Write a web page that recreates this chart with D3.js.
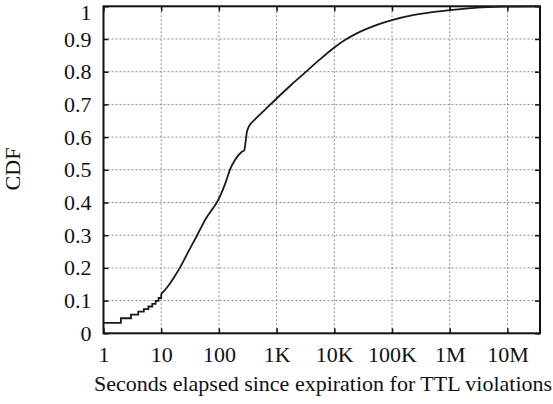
<!DOCTYPE html>
<html>
<head>
<meta charset="utf-8">
<script src="https://cdn.jsdelivr.net/npm/d3@7"></script>
<style>
  body { margin: 0; background: #fff; }
  svg { display: block; }
  text { font-family: "Liberation Serif", "Times New Roman", serif; fill: #111; }
</style>
</head>
<body>
<svg id="chart" width="553" height="404"></svg>
<script>
// ---- data ----
const xTickValues = [1, 10, 100, 1e3, 1e4, 1e5, 1e6, 1e7];
const xTickLabels = ["1", "10", "100", "1K", "10K", "100K", "1M", "10M"];
const yTickValues = [0, 0.1, 0.2, 0.3, 0.4, 0.5, 0.6, 0.7, 0.8, 0.9, 1];
const yTickLabels = ["0", "0.1", "0.2", "0.3", "0.4", "0.5", "0.6", "0.7", "0.8", "0.9", "1"];

// stepped part (integer seconds)
const stepX = [1, 2, 3, 4, 5, 6, 7, 8, 9, 10];
const stepY = [0.032, 0.046, 0.057, 0.066, 0.074, 0.082, 0.09, 0.099, 0.108, 0.12];

// continuous part
const cdfX = [10, 13, 16, 21, 30, 42, 60, 75, 92, 110, 130, 155, 190, 250, 275, 290, 305, 330, 400, 600, 1000, 1800, 3100, 5500, 10000, 16000, 25000, 40000, 65000, 100000, 230000, 1e6, 3e6, 1e7, 3.67e7];
const cdfY = [0.12, 0.143, 0.166, 0.2, 0.252, 0.3, 0.352, 0.377, 0.4, 0.428, 0.46, 0.5, 0.53, 0.555, 0.56, 0.585, 0.615, 0.632, 0.65, 0.68, 0.718, 0.76, 0.797, 0.836, 0.874, 0.899, 0.918, 0.934, 0.948, 0.958, 0.973, 0.988, 0.996, 0.999, 1.0];

const xMin = 1, xMax = 3.67e7;

// ---- layout ----
const svg = d3.select("#chart");
const L = 103.5, R = 540, T = 6.3, B = 333.3;
const FS = "22px";

const x = d3.scaleLog().domain([xMin, xMax]).range([L, R]);
const y = d3.scaleLinear().domain([0, 1]).range([B, T]);

// grid
const grid = svg.append("g").attr("stroke", "#8a8a8a").attr("stroke-width", 1).attr("stroke-dasharray", "2,2");
xTickValues.slice(1).forEach(v => {
  grid.append("line").attr("x1", x(v)).attr("x2", x(v)).attr("y1", B).attr("y2", T);
});
yTickValues.slice(1, -1).forEach(v => {
  grid.append("line").attr("x1", L).attr("x2", R).attr("y1", y(v)).attr("y2", y(v));
});

// axes (ticks inward, labels outside)
const fmtX = d => xTickLabels[xTickValues.indexOf(d)];
const fmtY = d => yTickLabels[yTickValues.indexOf(d)];

const xAxis = svg.append("g").attr("transform", `translate(0,${B})`)
  .call(d3.axisBottom(x).tickValues(xTickValues).tickFormat(fmtX).tickSizeInner(-5).tickSizeOuter(0).tickPadding(13));
const xAxisTop = svg.append("g").attr("transform", `translate(0,${T})`)
  .call(d3.axisTop(x).tickValues(xTickValues).tickFormat("").tickSizeInner(-5).tickSizeOuter(0));
const yAxis = svg.append("g").attr("transform", `translate(${L},0)`)
  .call(d3.axisLeft(y).tickValues(yTickValues).tickFormat(fmtY).tickSizeInner(-5).tickSizeOuter(0).tickPadding(12));
const yAxisR = svg.append("g").attr("transform", `translate(${R},0)`)
  .call(d3.axisRight(y).tickValues(yTickValues).tickFormat("").tickSizeInner(-5).tickSizeOuter(0));

[xAxis, xAxisTop, yAxis, yAxisR].forEach(g => {
  g.attr("font-family", null);
  g.select(".domain").remove();
  g.selectAll(".tick line").attr("stroke", "#111").attr("stroke-width", 1.5);
  g.selectAll("text").style("font-family", "'Liberation Serif', serif").style("font-size", FS).attr("fill", "#111");
});
// keep the top label inside the picture
yAxis.selectAll(".tick text").filter(d => d === 1).attr("dy", "0.62em");

// frame
svg.append("rect").attr("x", L).attr("y", T).attr("width", R - L).attr("height", B - T)
  .attr("fill", "none").attr("stroke", "#111").attr("stroke-width", 2);

// curve
const stepData = stepX.map((v, i) => [v, stepY[i]]);
const cdfData = cdfX.map((v, i) => [v, cdfY[i]]);
const stepLine = d3.line().x(d => x(d[0])).y(d => y(d[1])).curve(d3.curveStepAfter);
const smoothLine = d3.line().x(d => x(d[0])).y(d => y(d[1])).curve(d3.curveMonotoneX);

svg.append("path").attr("d", stepLine(stepData)).attr("fill", "none").attr("stroke", "#1a1a1a").attr("stroke-width", 1.8);
svg.append("path").attr("d", smoothLine(cdfData)).attr("fill", "none").attr("stroke", "#1a1a1a").attr("stroke-width", 1.8);

// axis titles
svg.append("text").attr("x", 323).attr("y", 391).attr("text-anchor", "middle")
  .style("font-size", FS).text("Seconds elapsed since expiration for TTL violations");
svg.append("text").attr("transform", `translate(20,169) rotate(-90)`).attr("text-anchor", "middle")
  .style("font-size", FS).text("CDF");
</script>
</body>
</html>
